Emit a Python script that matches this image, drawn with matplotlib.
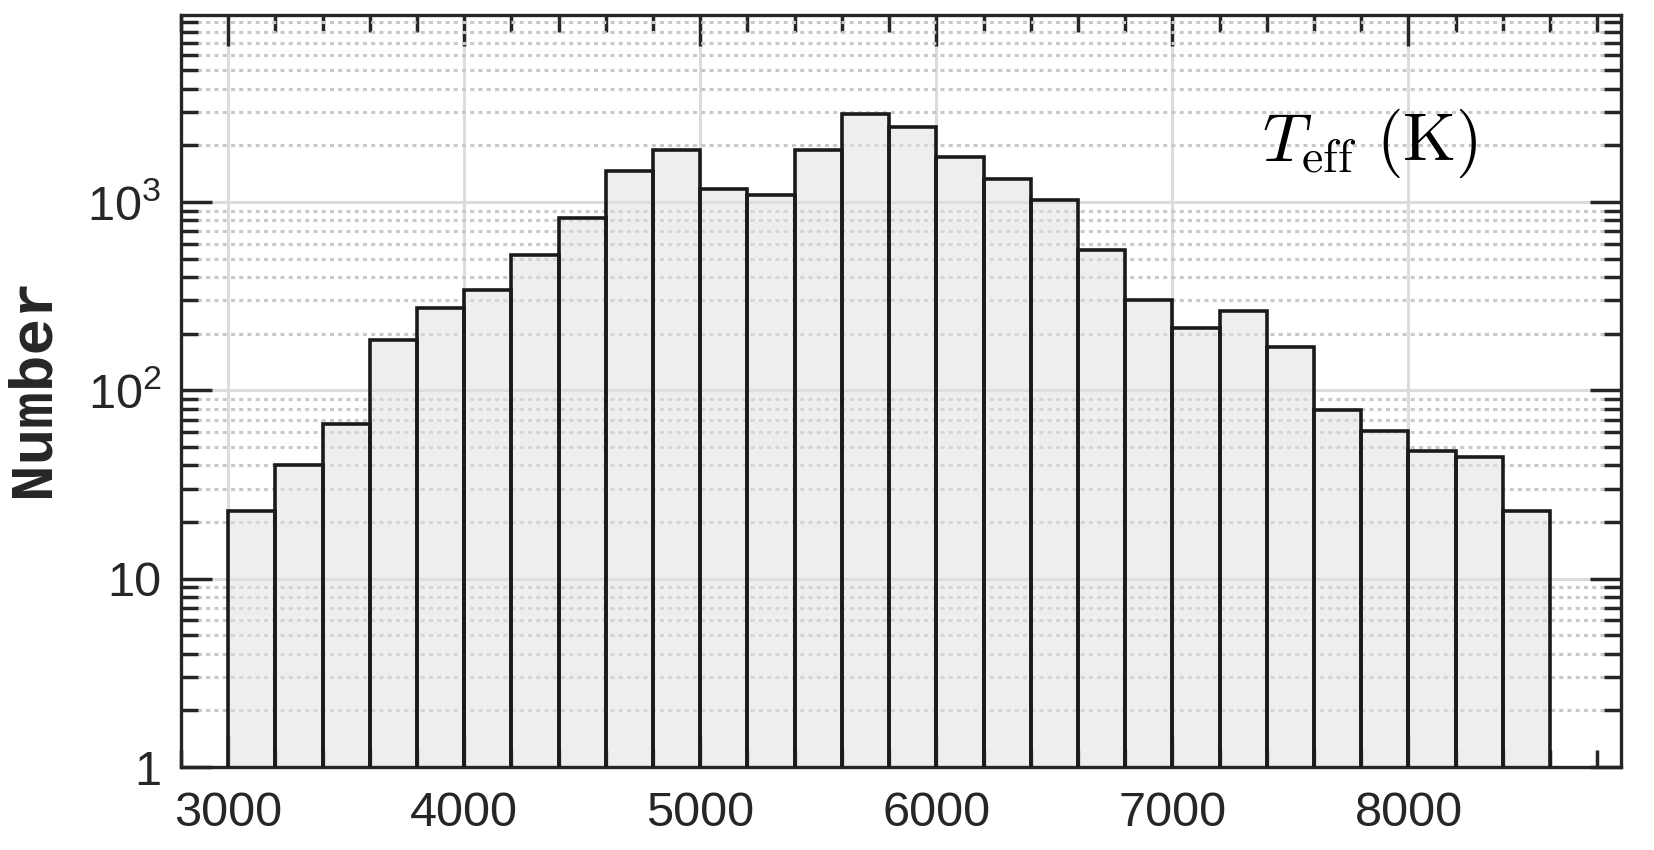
import numpy as np
import matplotlib
matplotlib.use("Agg")
import matplotlib.pyplot as plt
from matplotlib.font_manager import FontProperties
from matplotlib.ticker import MultipleLocator, LogLocator, FixedLocator, FixedFormatter, NullFormatter

# histogram bins (left edges, K) and counts
bin_edges = np.arange(3000, 8601, 200)
counts = [23, 40, 66, 185, 273, 341, 522, 822, 1455, 1885,
          1167, 1094, 1885, 2930, 2506, 1742, 1327, 1025, 557, 303,
          214, 263, 169, 79, 61, 47.5, 44.5, 23]
ytick_vals = [1, 10, 100, 1000]
ytick_labels = ["1", "10", r"$\mathregular{10^2}$", r"$\mathregular{10^3}$"]
xtick_vals = [3000, 4000, 5000, 6000, 7000, 8000]

dark = "#262626"
plt.rcParams["font.family"] = ["Liberation Sans", "DejaVu Sans"]
plt.rcParams["font.monospace"] = ["Liberation Mono", "DejaVu Sans Mono"]

fig = plt.figure(figsize=(16.54, 8.5), dpi=100)
ax = fig.add_axes([0.1094, 0.0976, 0.8706, 0.8844])

ax.hist(bin_edges[:-1], bins=bin_edges, weights=counts, histtype="bar",
        facecolor="#e0e0e0", alpha=0.55, edgecolor="none", zorder=2)
ax.hist(bin_edges[:-1], bins=bin_edges, weights=counts, histtype="bar",
        facecolor="none", edgecolor="#1a1a1a", linewidth=2.6, zorder=3)

ax.set_yscale("log")
ax.set_xlim(2800, 8900)
ax.set_ylim(1, 9800)

ax.xaxis.set_major_locator(FixedLocator(xtick_vals))
ax.xaxis.set_minor_locator(MultipleLocator(200))
ax.yaxis.set_major_locator(FixedLocator(ytick_vals))
ax.yaxis.set_major_formatter(FixedFormatter(ytick_labels))
ax.yaxis.set_minor_locator(LogLocator(base=10, subs=np.arange(2, 10), numticks=20))
ax.yaxis.set_minor_formatter(NullFormatter())

ax.tick_params(which="both", direction="in", top=True, right=True,
               colors=dark, labelsize=35, width=2.5)
ax.tick_params(which="major", length=22)
ax.tick_params(which="minor", length=12)
ax.tick_params(axis="x", which="major", pad=17)
ax.tick_params(axis="y", which="major", pad=14)

ax.set_axisbelow(True)
ax.grid(which="major", axis="both", color="#dcdcdc", linewidth=2.2, linestyle="-")
ax.grid(which="minor", axis="y", color="#c8c8c8", linewidth=2.2, linestyle=(0, (1.3, 1.4)))

for s in ax.spines.values():
    s.set_linewidth(2.4)
    s.set_color(dark)

mono = FontProperties(family="monospace", weight="bold", size=44)
ax.set_ylabel("Number", fontproperties=mono, color=dark)
ax.yaxis.set_label_coords(-0.083, 0.505)

ax.text(0.7505, 0.83, r"$T_{\rm eff}\ (\rm K)$", transform=ax.transAxes,
        fontsize=49, math_fontfamily="cm",
        ha="left", va="center", color="black")

fig.savefig("out.png", dpi=100)
